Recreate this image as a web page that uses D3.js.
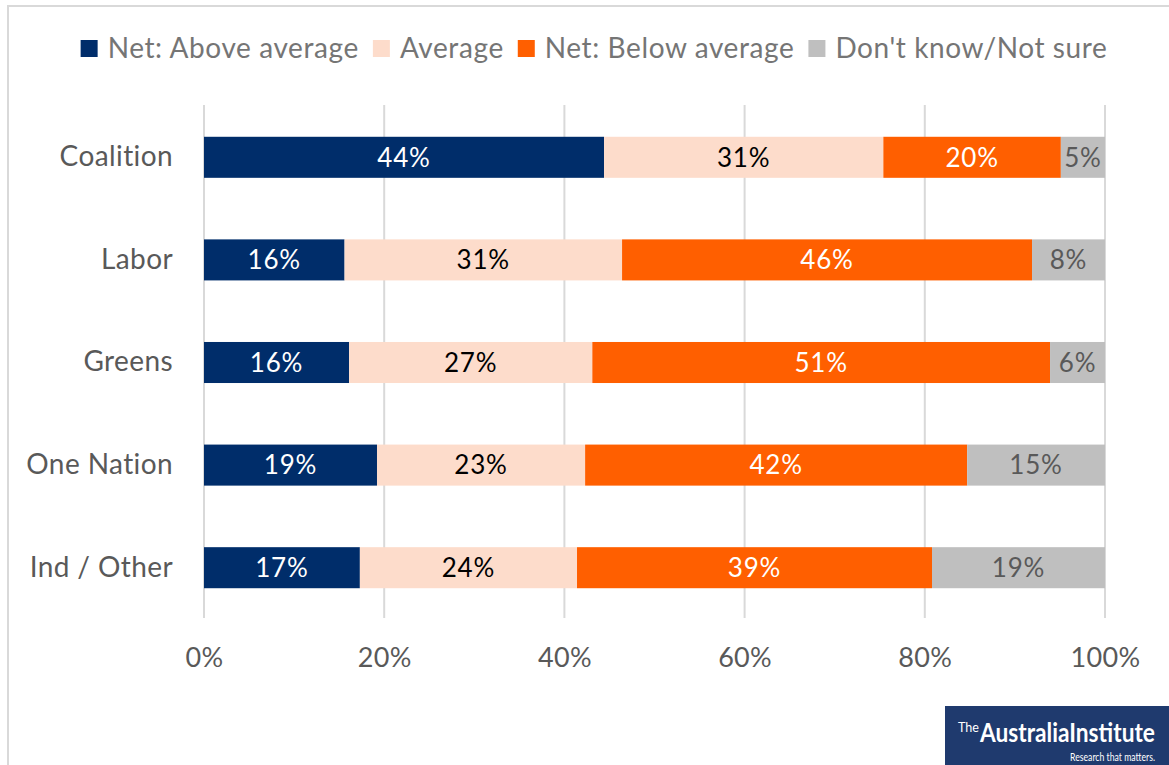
<!DOCTYPE html>
<html>
<head>
<meta charset="utf-8">
<script src="https://cdn.jsdelivr.net/npm/d3@7"></script>
<style>
html,body{margin:0;padding:0;background:#fff;}
svg{display:block;}
text{font-family:Lato,"Open Sans",sans-serif;}
</style>
</head>
<body>
<svg id="chart" width="1169" height="765"></svg>
<script>
const categories = ["Coalition", "Labor", "Greens", "One Nation", "Ind / Other"];
const seriesNames = ["Net: Above average", "Average", "Net: Below average", "Don't know/Not sure"];
const aboveAvg  = [44.4, 15.6, 16.1, 19.2, 17.3];
const average   = [31.0, 30.8, 27.0, 23.1, 24.1];
const belowAvg  = [19.7, 45.5, 50.8, 42.4, 39.4];
const dontKnow  = [4.9, 8.1, 6.1, 15.3, 19.2];
const labelAbove = ["44%", "16%", "16%", "19%", "17%"];
const labelAvg   = ["31%", "31%", "27%", "23%", "24%"];
const labelBelow = ["20%", "46%", "51%", "42%", "39%"];
const labelDK    = ["5%", "8%", "6%", "15%", "19%"];
const tickValues = [0, 20, 40, 60, 80, 100];
const tickLabels = ["0%", "20%", "40%", "60%", "80%", "100%"];

const colors = ["#002d6a", "#fddccb", "#ff5f00", "#bfbfbf"];
const labelColors = ["#ffffff", "#000000", "#ffffff", "#595959"];

const seriesValues = [aboveAvg, average, belowAvg, dontKnow];
const seriesLabels = [labelAbove, labelAvg, labelBelow, labelDK];

const rows = categories.map((c, i) => {
  const r = {cat: c};
  seriesNames.forEach((s, j) => r[s] = seriesValues[j][i]);
  return r;
});
const stacked = d3.stack().keys(seriesNames)(rows);

const svg = d3.select("#chart");

// outer frame
svg.append("rect").attr("x", 8).attr("y", 6).attr("width", 1200).attr("height", 800)
  .attr("fill", "none").attr("stroke", "#d9d9d9").attr("stroke-width", 2);

const x = d3.scaleLinear().domain([0, 100]).range([204, 1105]);
const y = d3.scaleBand().domain(categories).range([106, 619]).paddingInner(0.6).paddingOuter(0.3);

// gridlines
svg.append("g").selectAll("line").data(tickValues).join("line")
  .attr("x1", d => x(d)).attr("x2", d => x(d))
  .attr("y1", 105).attr("y2", 618)
  .attr("stroke", "#d9d9d9").attr("stroke-width", 2);

// bars
const g = svg.append("g");
stacked.forEach((layer, j) => {
  g.append("g").selectAll("rect").data(layer).join("rect")
    .attr("x", d => x(d[0]))
    .attr("width", d => x(d[1]) - x(d[0]))
    .attr("y", d => y(d.data.cat))
    .attr("height", y.bandwidth())
    .attr("fill", colors[j]);
  g.append("g").selectAll("text").data(layer).join("text")
    .attr("x", d => (x(d[0]) + x(d[1])) / 2)
    .attr("y", d => y(d.data.cat) + y.bandwidth() / 2)
    .attr("dy", "0.36em")
    .attr("text-anchor", "middle")
    .attr("font-size", 26)
    .attr("letter-spacing", 0.8)
    .attr("fill", labelColors[j])
    .text((d, i) => seriesLabels[j][i]);
});

// category axis
const yAxis = svg.append("g").attr("transform", "translate(204,0)")
  .call(d3.axisLeft(y).tickSize(0).tickPadding(31));
yAxis.select(".domain").remove();
yAxis.selectAll("text").attr("font-size", 28).attr("fill", "#595959").attr("letter-spacing", 0.4)
  .attr("font-family", "Lato, 'Open Sans', sans-serif");

// x axis
const xAxis = svg.append("g").attr("transform", "translate(0,618)")
  .call(d3.axisBottom(x).tickValues(tickValues).tickFormat((d, i) => tickLabels[i]).tickSize(0).tickPadding(30));
xAxis.select(".domain").remove();
xAxis.selectAll("text").attr("font-size", 27).attr("fill", "#595959").attr("letter-spacing", 0.3)
  .attr("font-family", "Lato, 'Open Sans', sans-serif");

// legend
const legend = svg.append("g");
let lx = 0;
seriesNames.forEach((s, j) => {
  const it = legend.append("g");
  it.append("rect").attr("x", 0).attr("y", 40).attr("width", 17).attr("height", 17).attr("fill", colors[j]);
  const t = it.append("text").attr("x", 27).attr("y", 58).attr("font-size", 28)
    .attr("letter-spacing", 0.6).attr("fill", "#757575").text(s);
  const w = t.node().getComputedTextLength();
  it.attr("transform", `translate(${lx},0)`);
  lx += 27 + w + 14;
});
const totalW = lx - 14;
legend.attr("transform", `translate(${594 - totalW / 2},0)`);

// logo
const logo = svg.append("g");
const narrow = "'Liberation Sans Narrow','DejaVu Sans Condensed',sans-serif";
logo.append("rect").attr("x", 945).attr("y", 706).attr("width", 224).attr("height", 59).attr("fill", "#1f3a6e");
function fitText(txt, x0, yb, size, weight, targetW) {
  const t = logo.append("text").attr("x", 0).attr("y", 0).attr("font-size", size)
    .attr("font-weight", weight).attr("fill", "#fff").attr("font-family", narrow).text(txt);
  const w = t.node().getComputedTextLength();
  t.attr("transform", `translate(${x0},${yb}) scale(${targetW / w},1)`);
}
fitText("The", 958, 732, 13, "normal", 21);
fitText("AustraliaInstitute", 980, 742, 27, "bold", 175);
fitText("Research that matters.", 1070, 761, 12, "normal", 85);
</script>
</body>
</html>
